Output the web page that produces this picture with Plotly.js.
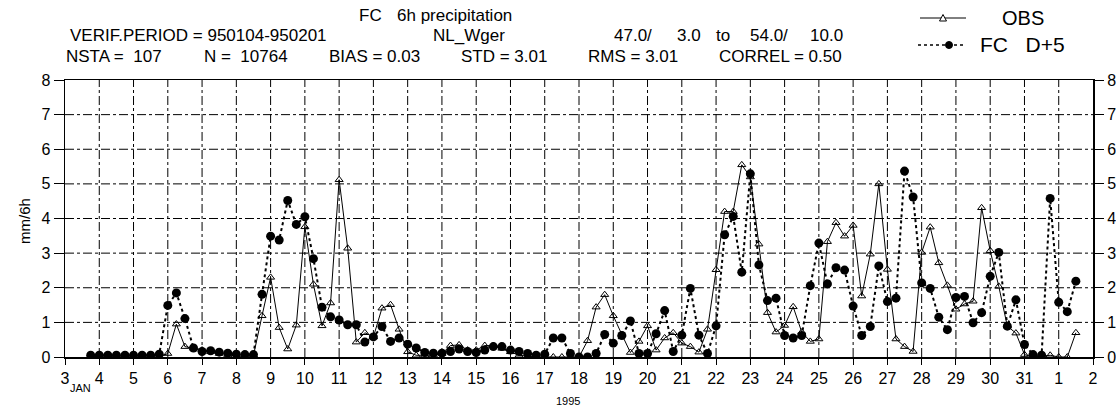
<!DOCTYPE html>
<html><head><meta charset="utf-8">
<script src="https://cdn.plot.ly/plotly-3.0.1.min.js"></script>
<style>html,body{margin:0;padding:0;background:#fff}#chart{width:1116px;height:416px}</style>
</head><body><div id="chart"></div>
<script>
// 6-hourly samples, time in days of January 1995 (3.75 = Jan 3 18 UTC)
const firstTime = 3.75;
const stepDays = 0.25;

const obsValues = [
  0,
  0, 0, 0, 0,
  0, 0, 0, 0,
  0.10, 0.95, 0.30, 0.25,
  0.20, 0.15, 0.10, 0.05,
  0.02, 0.02, 0.05, 1.19,
  2.30, 0.85, 0.23, 0.92,
  3.76, 2.10, 0.90, 1.56,
  5.12, 3.14, 0.43, 0.70,
  0.58, 1.41, 1.51, 0.80,
  0.15, 0.05, 0.05, 0.05,
  0.10, 0.33, 0.35, 0.20,
  0.20, 0.33, 0.33, 0.25,
  0.15, 0.05, 0.02, 0.00,
  0.00, 0.00, 0.00, 0.00,
  0.00, 0.47, 1.44, 1.80,
  1.19, 0.65, 0.13, 0.45,
  0.90, 0.20, 0.55, 0.70,
  0.40, 0.30, 0.14, 0.80,
  2.52, 4.20, 4.20, 5.55,
  5.20, 3.26, 1.28, 0.72,
  0.91, 1.45, 0.72, 0.45,
  0.52, 3.33, 3.88, 3.49,
  3.80, 1.76, 2.97, 5.00,
  2.53, 0.52, 0.30, 0.16,
  3.02, 3.75, 2.72, 2.07,
  1.38, 1.53, 1.61, 4.31,
  3.07, 2.04, 0.89, 0.69,
  0.07, 0.00, 0.02, 0.05,
  0.00, 0.00, 0.70
];

const fcValues = [
  0.05,
  0.05, 0.05, 0.05, 0.05,
  0.05, 0.05, 0.05, 0.08,
  1.49, 1.85, 1.11, 0.26,
  0.16, 0.18, 0.14, 0.11,
  0.08, 0.07, 0.07, 1.81,
  3.49, 3.38, 4.52, 3.83,
  4.05, 2.84, 1.44, 1.16,
  1.07, 0.93, 0.93, 0.43,
  0.58, 0.88, 0.45, 0.55,
  0.37, 0.26, 0.13, 0.11,
  0.11, 0.16, 0.23, 0.16,
  0.13, 0.20, 0.30, 0.30,
  0.20, 0.16, 0.10, 0.05,
  0.08, 0.55, 0.55, 0.10,
  0.00, 0.00, 0.10, 0.65,
  0.40, 0.62, 1.04, 0.10,
  0.10, 0.67, 1.34, 0.16,
  0.63, 1.98, 0.63, 0.10,
  0.90, 3.53, 4.06, 2.45,
  5.29, 2.66, 1.63, 1.70,
  0.62, 0.55, 0.62, 2.06,
  3.29, 2.11, 2.58, 2.51,
  1.47, 0.62, 0.88, 2.63,
  1.60, 1.70, 5.37, 4.62,
  2.14, 1.98, 1.15, 0.79,
  1.72, 1.75, 0.99, 1.28,
  2.33, 3.02, 0.89, 1.65,
  0.36, 0.07, 0.05, 4.58,
  1.58, 1.31, 2.19
];

const tickDays = [3,4,5,6,7,8,9,10,11,12,13,14,15,16,17,18,19,20,21,22,23,24,25,26,27,28,29,30,31,32,33];
const tickLabels = ["3","4","5","6","7","8","9","10","11","12","13","14","15","16","17","18","19","20","21","22","23","24","25","26","27","28","29","30","31","1","2"];
const yTicks = [0,1,2,3,4,5,6,7,8];

const obsName = "OBS";
const fcName = "FC\u00a0\u00a0\u00a0D+5";
const titleLine1 = ["FC", "6h precipitation"];
const titleLine2 = ["VERIF.PERIOD = 950104-950201", "NL_Wger"];
const areaParts = ["47.0/", "3.0", "to", "54.0/", "10.0"];
const titleLine3 = ["NSTA =\u00a0 107", "N =\u00a0 10764", "BIAS = 0.03", "STD = 3.01", "RMS = 3.01", "CORREL = 0.50"];

const times = obsValues.map((_, i) => firstTime + i * stepDays);

// geometry (pixels)
const W = 1116, H = 416, L = 65, R = 23, T = 80, B = 59;
const pw = W - L - R, ph = H - T - B;
const px2x = p => (p - L) / pw;
const py2y = p => (H - B - p) / ph;

const FONT = "Liberation Sans, Arial, sans-serif";

const traces = [
  {
    x: times, y: fcValues, type: "scatter", mode: "lines+markers",
    line: {color: "#000", width: 2, dash: "dot"},
    marker: {symbol: "circle", size: 9, color: "#000"},
    showlegend: false, hoverinfo: "skip"
  },
  {
    x: times, y: obsValues, type: "scatter", mode: "lines+markers",
    line: {color: "#000", width: 1},
    marker: {symbol: "triangle-up-open", size: 7, color: "#000", line: {width: 1}},
    showlegend: false, hoverinfo: "skip"
  },
  // carries the right-hand y axis (no visible marks)
  {x: [3], y: [0], yaxis: "y2", type: "scatter", mode: "markers",
   marker: {opacity: 0}, showlegend: false, hoverinfo: "skip"}
];

function ann(text, px, py, size, anchor, extra) {
  return Object.assign({
    text: text, xref: "paper", yref: "paper", x: px2x(px), y: py2y(py),
    xanchor: anchor || "left", yanchor: "middle", showarrow: false,
    font: {family: FONT, size: size, color: "#000"}
  }, extra || {});
}

const line3Pos = [64, 202, 327, 459, 586, 717];
const areaPos = [612, 675, 714, 748, 808];
const annotations = [
  ann(titleLine1[0], 357, 15, 17),
  ann(titleLine1[1], 395, 15, 17),
  ann(titleLine2[0], 68, 36, 17),
  ann(titleLine2[1], 431, 36, 17),
  ...areaParts.map((t, i) => ann(t, areaPos[i], 36, 17)),
  ...titleLine3.map((t, i) => ann(t, line3Pos[i], 56, 17)),
  ann(obsName, 1000, 18, 20),
  ann(fcName, 978, 45, 21),
  ann("JAN", 80, 388, 11, "center"),
  ann("1995", 568, 401, 11, "center"),
  ann("mm/6h", 24, 221, 15, "center", {textangle: -90})
];

const gridLine = {color: "#000", width: 1, dash: "dashdot"};
const shapes = [
  // grid lines, at the tick positions
  ...tickDays.slice(1, -1).map(d => ({type: "line", xref: "x", yref: "paper", x0: d, x1: d, y0: 0, y1: 1, line: gridLine, layer: "below"})),
  ...yTicks.slice(1, -1).map(v => ({type: "line", xref: "paper", yref: "y", x0: 0, x1: 1, y0: v, y1: v, line: gridLine, layer: "below"})),
  // legend samples
  {type: "line", xref: "paper", yref: "paper", x0: px2x(920), x1: px2x(966), y0: py2y(18), y1: py2y(18), line: {color: "#000", width: 1}},
  {type: "path", xref: "paper", yref: "paper",
   path: `M ${px2x(939.5)} ${py2y(21)} L ${px2x(946.5)} ${py2y(21)} L ${px2x(943)} ${py2y(14.5)} Z`,
   line: {color: "#000", width: 1}, fillcolor: "#fff"},
  {type: "line", xref: "paper", yref: "paper", x0: px2x(918), x1: px2x(964), y0: py2y(45), y1: py2y(45), line: {color: "#000", width: 1.5, dash: "dot"}},
  {type: "circle", xref: "paper", yref: "paper", x0: px2x(945.5), x1: px2x(952.5), y0: py2y(48.5), y1: py2y(41.5), line: {color: "#000", width: 1}, fillcolor: "#000"}
];

const layout = {
  width: W, height: H,
  margin: {l: L, r: R, t: T, b: B, pad: 0},
  paper_bgcolor: "#fff", plot_bgcolor: "rgba(0,0,0,0)",
  font: {family: FONT, size: 15, color: "#000"},
  showlegend: false,
  xaxis: {
    range: [3, 33], tickmode: "array", tickvals: tickDays, ticktext: tickLabels,
    ticks: "outside", ticklen: 6, tickwidth: 1, tickcolor: "#000",
    showline: true, linecolor: "#000", linewidth: 1.5, mirror: true,
    showgrid: false, zeroline: false,
    tickfont: {family: FONT, size: 16, color: "#000"}
  },
  yaxis: {
    range: [0, 8], tickmode: "array", tickvals: yTicks,
    ticks: "outside", ticklen: 10, tickwidth: 1, tickcolor: "#000",
    showline: true, linecolor: "#000", linewidth: 1.5, mirror: true,
    showgrid: false, zeroline: false,
    tickfont: {family: FONT, size: 16, color: "#000"}
  },
  yaxis2: {
    range: [0, 8], overlaying: "y", side: "right", tickmode: "array", tickvals: yTicks,
    ticks: "outside", ticklen: 10, tickwidth: 1, tickcolor: "#000",
    showline: false, showgrid: false, zeroline: false,
    tickfont: {family: FONT, size: 16, color: "#000"}
  },
  annotations: annotations,
  shapes: shapes
};

Plotly.newPlot("chart", traces, layout, {staticPlot: true, displayModeBar: false});
</script></body></html>
